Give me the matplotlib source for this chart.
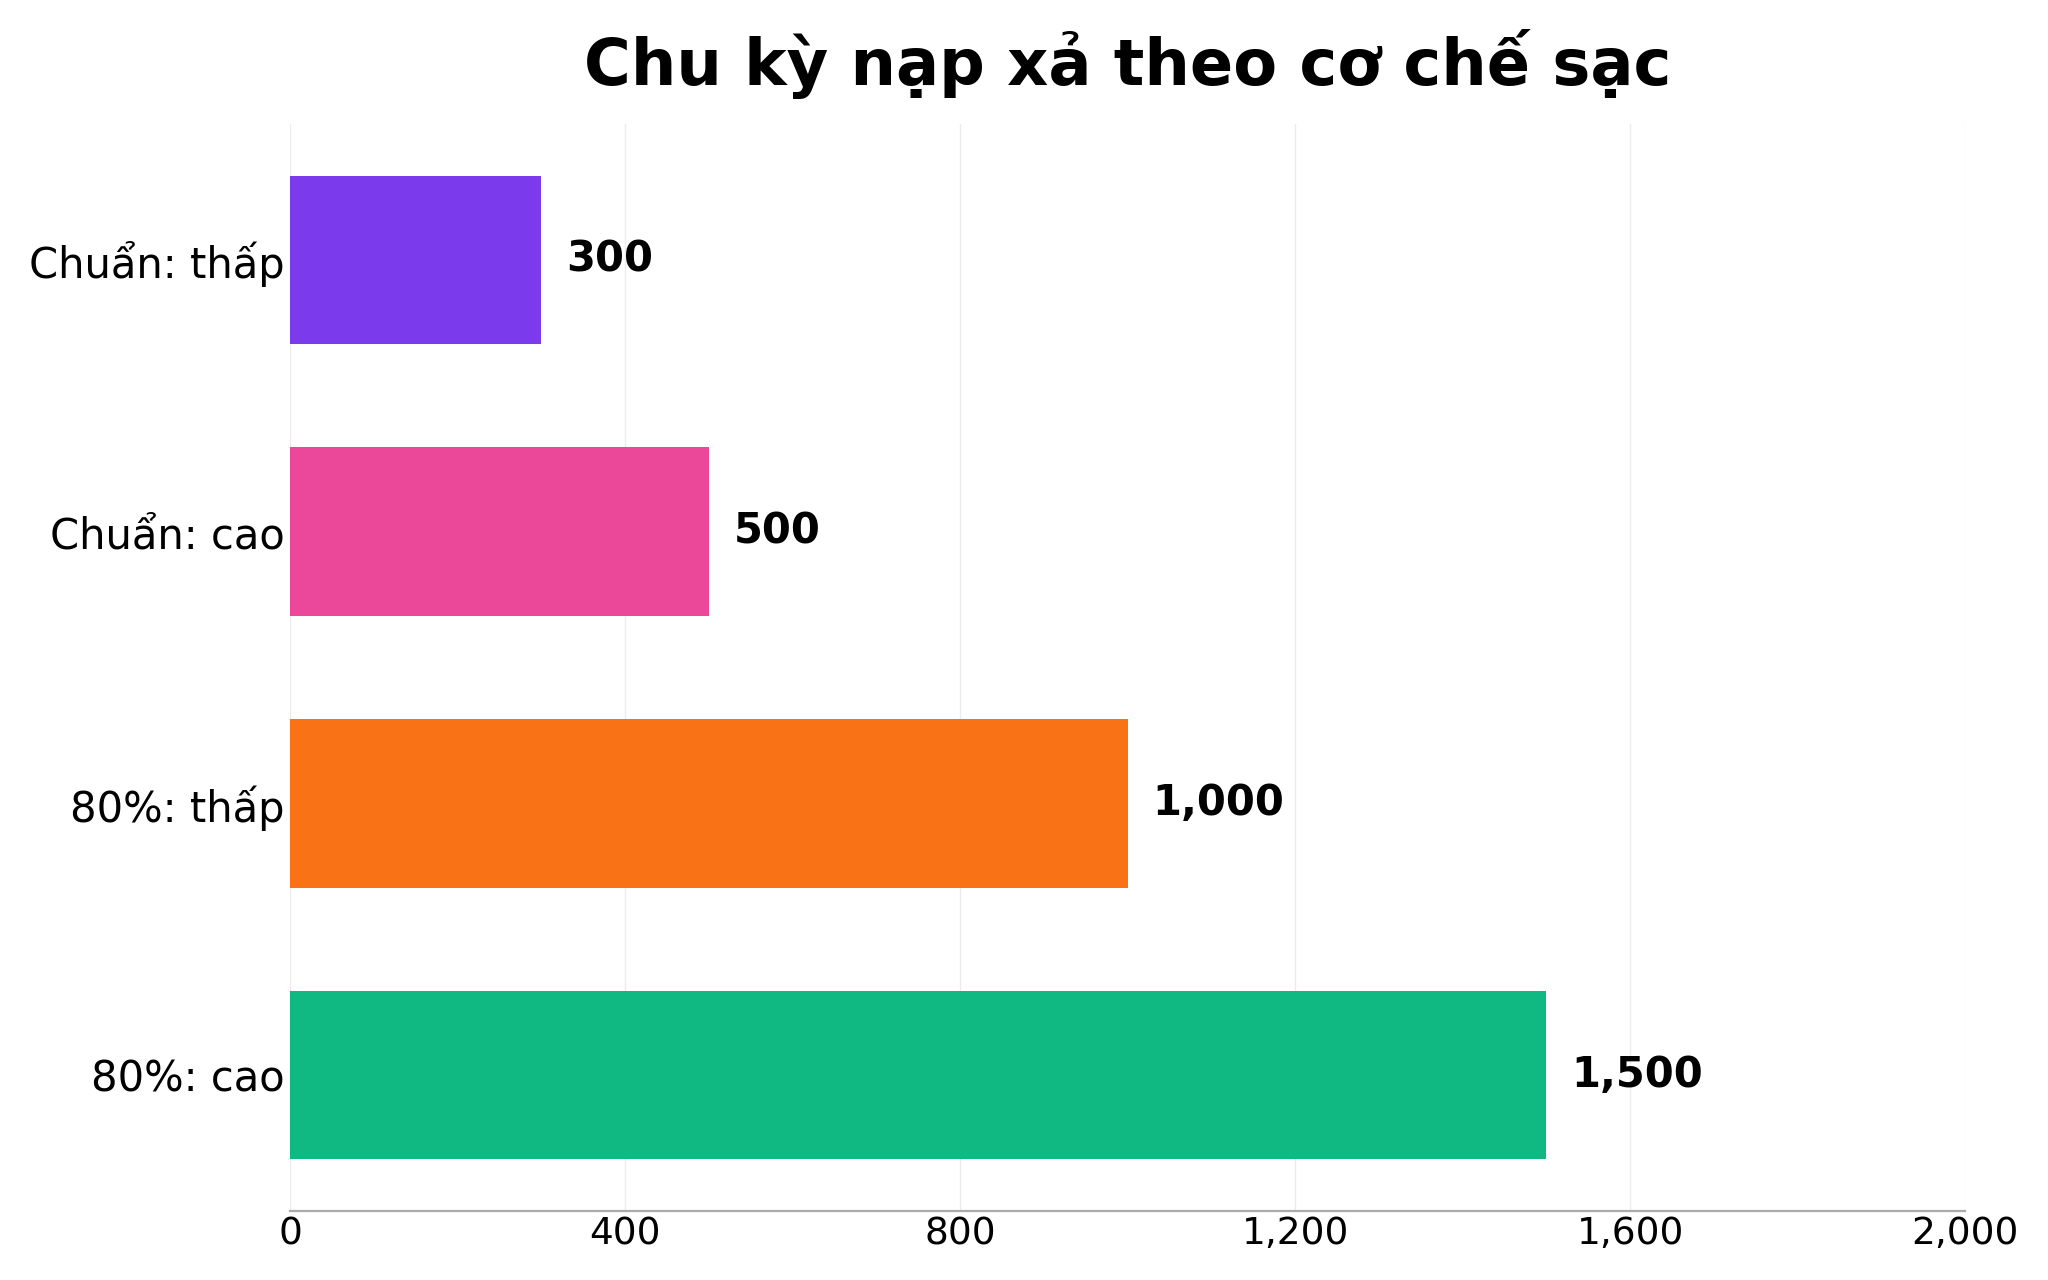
import matplotlib
matplotlib.use("Agg")
import matplotlib.pyplot as plt
from matplotlib.ticker import FuncFormatter

# dữ liệu
nhan = ["Chuẩn: thấp", "Chuẩn: cao", "80%: thấp", "80%: cao"]
chu_ky = [300, 500, 1000, 1500]
mau = ["#7c3aed", "#ec4899", "#f97316", "#10b981"]
moc_x = [0, 400, 800, 1200, 1600, 2000]

plt.rcParams["font.family"] = ["DejaVu Sans"]

fig = plt.figure(figsize=(10.24, 6.4), dpi=200)
ax = fig.add_axes([0.1416, 0.054, 0.818, 0.849])

vi_tri = list(range(len(nhan)))
ax.barh(vi_tri, chu_ky, height=0.62, color=mau, zorder=2)

for y, v in zip(vi_tri, chu_ky):
    ax.text(v + 30, y, f"{v:,}", va="center", ha="left",
            fontsize=15, fontweight="bold", color="black")

ax.set_yticks(vi_tri)
ax.set_yticklabels(nhan, fontsize=15)
ax.set_ylim(3.5, -0.5)

ax.set_xlim(0, 2000)
ax.set_xticks(moc_x)
ax.xaxis.set_major_formatter(FuncFormatter(lambda v, p: f"{int(v):,}"))
ax.tick_params(axis="x", labelsize=13.5, length=0, pad=2)
ax.tick_params(axis="y", length=0, pad=2)

ax.grid(axis="x", color="#ececec", linewidth=0.5, zorder=0)
ax.set_axisbelow(True)
for s in ["top", "right", "left"]:
    ax.spines[s].set_visible(False)
ax.spines["bottom"].set_color("#aaaaaa")
ax.spines["bottom"].set_linewidth(0.8)

ax.set_title("Chu kỳ nạp xả theo cơ chế sạc", fontsize=23,
             fontweight="bold", pad=14)

fig.savefig("out.png", dpi=200, facecolor="white")
